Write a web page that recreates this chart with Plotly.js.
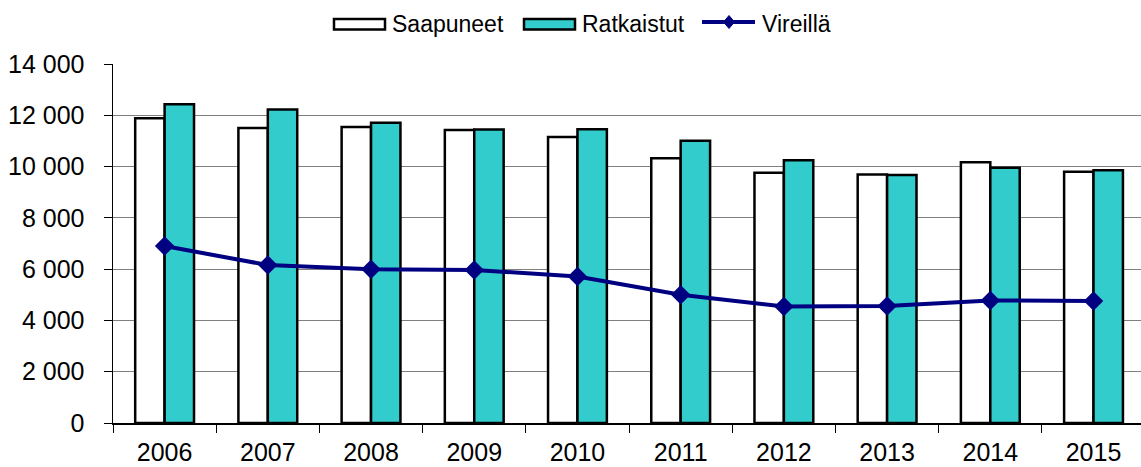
<!DOCTYPE html>
<html>
<head>
<meta charset="utf-8">
<script src="https://cdn.plot.ly/plotly-3.0.1.min.js"></script>
<style>html,body{margin:0;padding:0;background:#fff;}#chart{width:1141px;height:467px;}</style>
</head>
<body>
<div id="chart"></div>
<script>
var years = ["2006","2007","2008","2009","2010","2011","2012","2013","2014","2015"];
var saapuneet = [11880, 11500, 11540, 11430, 11150, 10320, 9760, 9690, 10170, 9800];
var ratkaistut = [12430, 12230, 11710, 11450, 11460, 11010, 10250, 9670, 9950, 9860];
var vireilla = [6900, 6160, 6000, 5970, 5710, 5000, 4540, 4560, 4780, 4760];
var yTicks = [0, 2000, 4000, 6000, 8000, 10000, 12000, 14000];
var seriesNames = ["Saapuneet", "Ratkaistut", "Vireillä"];

var W = 1141, H = 467, ML = 113, MR = 0, MT = 64, MB = 44;
function px(x) { return (x - ML) / (W - ML - MR); }
function py(y) { return (H - MB - y) / (H - MT - MB); }

var fam = "Liberation Sans, Arial, sans-serif";
var tickFont = {family: fam, size: 25, color: "#000"};
var legFont = {family: fam, size: 23, color: "#000"};
var teal = "#33CCCC", navy = "#000080";

var data = [
  {type: "bar", name: seriesNames[0], x: years, y: saapuneet, showlegend: false,
   marker: {color: "#ffffff", line: {color: "#000000", width: 2.5}}},
  {type: "bar", name: seriesNames[1], x: years, y: ratkaistut, showlegend: false,
   marker: {color: teal, line: {color: "#000000", width: 2.5}}},
  {type: "scatter", mode: "lines+markers", name: seriesNames[2], x: years, y: vireilla, showlegend: false,
   line: {color: navy, width: 4}, marker: {symbol: "diamond", size: 15, color: navy}}
];

// legend drawn as shapes + annotations
var shapes = [
  {type: "rect", xref: "paper", yref: "paper", x0: px(334), x1: px(385), y0: py(19), y1: py(29.5),
   fillcolor: "#ffffff", line: {color: "#000", width: 2.5}},
  {type: "rect", xref: "paper", yref: "paper", x0: px(524), x1: px(575), y0: py(19), y1: py(29.5),
   fillcolor: teal, line: {color: "#000", width: 2.5}},
  {type: "line", xref: "paper", yref: "paper", x0: px(702), x1: px(755), y0: py(22), y1: py(22),
   line: {color: navy, width: 4}},
  {type: "path", xref: "paper", yref: "paper",
   path: "M " + px(729) + " " + py(15.5) + " L " + px(734.5) + " " + py(22) + " L " + px(729) + " " + py(28.5) +
         " L " + px(723.5) + " " + py(22) + " Z",
   fillcolor: navy, line: {color: navy, width: 1}}
];
var annotations = [
  {xref: "paper", yref: "paper", x: px(390), y: py(24), text: seriesNames[0], showarrow: false, xanchor: "left", yanchor: "middle", font: legFont},
  {xref: "paper", yref: "paper", x: px(580), y: py(24), text: seriesNames[1], showarrow: false, xanchor: "left", yanchor: "middle", font: legFont},
  {xref: "paper", yref: "paper", x: px(760), y: py(24), text: seriesNames[2], showarrow: false, xanchor: "left", yanchor: "middle", font: legFont}
];

var layout = {
  width: W, height: H,
  margin: {l: ML, r: MR, t: MT, b: MB},
  paper_bgcolor: "#fff", plot_bgcolor: "#fff",
  font: tickFont,
  separators: ". ",
  barmode: "group", bargap: 0.43, bargroupgap: 0,
  showlegend: false,
  shapes: shapes, annotations: annotations,
  xaxis: {type: "category", range: [-0.5, 9.46], showgrid: false, showline: true, linecolor: "#000", linewidth: 1.5,
          ticks: "outside", tickson: "boundaries", ticklen: 8, tickcolor: "#000", tickwidth: 1, tickfont: tickFont,
          ticklabelstandoff: 6, zeroline: false},
  yaxis: {range: [0, 14000], tickvals: yTicks, tickformat: ",", showgrid: true, gridcolor: "#808080", gridwidth: 1,
          showline: true, linecolor: "#000", linewidth: 1.5, ticks: "outside", ticklen: 8, tickcolor: "#000",
          tickfont: tickFont, ticklabelstandoff: 14, zeroline: false}
};
Plotly.newPlot("chart", data, layout, {staticPlot: true, displayModeBar: false});
</script>
</body>
</html>
